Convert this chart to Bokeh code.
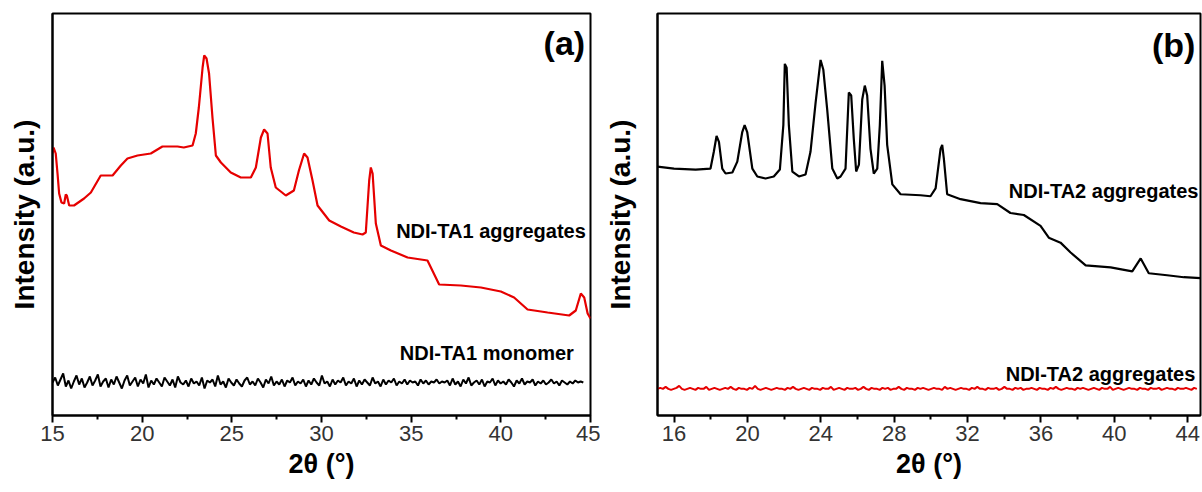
import numpy as np
from bokeh.plotting import figure
from bokeh.layouts import row
from bokeh.models import FixedTicker, Label
from bokeh.embed import file_html
from bokeh.resources import INLINE

# ---------------- Panel (a) data ----------------
ta1_agg_x = [15.0, 15.06, 15.18, 15.28, 15.37, 15.50, 15.65, 15.74, 15.80, 15.93,
             16.20, 16.76, 17.14, 17.69, 18.35, 18.81, 19.18, 19.74, 20.48, 21.13,
             21.97, 22.32, 22.81, 22.99, 23.16, 23.37, 23.46, 23.59, 23.73, 23.92,
             24.11, 24.39, 24.94, 25.50, 26.06, 26.34, 26.62, 26.80, 26.99, 27.17,
             27.45, 28.01, 28.46, 28.74, 29.03, 29.22, 29.50, 29.78, 30.43, 31.08,
             31.80, 32.29, 32.47, 32.66, 32.75, 32.85, 33.03, 33.31, 33.87, 34.80,
             35.91, 36.56, 37.77, 38.89, 40.00, 40.74, 41.49, 42.61, 43.81, 44.18,
             44.46, 44.65, 44.84, 45.0]
ta1_agg_y = [262, 268, 262, 242, 222, 213, 212, 221, 220, 210,
             210, 217, 223, 240, 240, 250, 257, 260, 262, 269,
             269, 268, 270, 282, 308, 348, 360, 357, 342, 298,
             260, 253, 243, 238, 238, 248, 278, 286, 282, 248,
             228, 220, 225, 245, 262, 258, 235, 210, 195, 189,
             183, 181, 183, 235, 248, 242, 192, 170, 165, 158,
             155, 131, 130, 128, 124, 118, 106, 103, 100, 105,
             122, 118, 102, 97]

ta1_mono_y = [33, 38, 30, 36, 42, 29, 35, 27, 34, 40, 31, 37, 28, 33, 39, 30, 35, 41, 29, 34,
              37, 28, 36, 31, 39, 33, 27, 35, 40, 30, 34, 38, 29, 36, 32, 41, 28, 35, 31, 37,
              33, 29, 38, 34, 30, 36, 28, 39, 33, 31, 35, 29, 37, 32, 34, 30, 38, 27, 35, 33,
              36, 29, 40, 31, 34, 28, 37, 33, 30, 36, 32, 29, 35, 38, 31, 34, 30, 37, 33, 28,
              36, 32, 39, 30, 34, 31, 36, 29, 35, 33, 38, 30, 34, 32, 36, 29, 35, 31, 37, 33,
              30, 40, 32, 34, 29, 36, 31, 35, 33, 38, 30, 34, 32, 37, 29, 35, 31, 36, 33, 30,
              38, 32, 34, 29, 36, 31, 35, 33, 37, 30, 34, 32, 36, 31, 35, 33, 34, 30, 36, 32,
              35, 31, 34, 33, 36, 32, 34, 33, 35, 30, 37, 31, 34, 29, 36, 32, 38, 30, 33, 35,
              31, 36, 29, 34, 33, 37, 30, 35, 32, 34, 31, 36, 33, 29, 35, 32, 37, 31, 34, 33,
              36, 30, 34, 32, 35, 31, 33, 36, 32, 34, 30, 35, 33, 31, 34, 32, 35, 33, 34, 33]
ta1_mono_start, ta1_mono_end = 15.0, 44.6

a_ticks = [15, 20, 25, 30, 35, 40, 45]
a_minor = [17.5, 22.5, 27.5, 32.5, 37.5, 42.5]

# ---------------- Panel (b) data ----------------
ta2_agg_x = [15.1, 16.0, 17.18, 17.99, 18.17, 18.32, 18.45, 18.63, 18.81, 19.18,
             19.45, 19.72, 19.85, 19.99, 20.27, 20.54, 20.99, 21.44, 21.77, 21.96,
             22.04, 22.14, 22.26, 22.45, 22.81, 23.17, 23.44, 23.72, 23.99, 24.14,
             24.35, 24.63, 24.90, 25.08, 25.35, 25.53, 25.66, 25.80, 25.93, 26.08,
             26.26, 26.40, 26.53, 26.71, 26.89, 27.08, 27.22, 27.35, 27.48, 27.62,
             27.90, 28.35, 29.44, 29.98, 30.26, 30.53, 30.62, 30.71, 30.89, 31.62,
             32.71, 33.62, 34.34, 35.07, 35.98, 36.43, 37.07, 37.62, 38.44, 39.80,
             40.98, 41.44, 41.88, 42.88, 43.79, 44.70]
ta2_agg_y = [252, 250, 249, 250, 267, 283, 277, 250, 245, 246,
             257, 287, 294, 287, 250, 242, 240, 242, 249, 294,
             356, 352, 294, 247, 242, 244, 267, 317, 360, 350,
             310, 250, 240, 242, 250, 327, 324, 280, 247, 254,
             320, 334, 324, 270, 245, 250, 294, 359, 334, 274,
             234, 224, 223, 222, 230, 270, 274, 260, 224, 219,
             215, 214, 205, 203, 192, 180, 175, 165, 152, 150,
             146, 159, 144, 142, 140, 139]

ta2_red_y = [27, 28, 27, 29, 27, 26, 27, 28, 30, 27, 26, 27, 28, 27, 26, 28, 27, 27, 29, 26,
             27, 28, 27, 26, 27, 28, 27, 29, 27, 26, 28, 27, 27, 26, 28, 27, 30, 27, 26, 27,
             28, 27, 26, 27, 28, 27, 27, 26, 28, 27, 29, 27, 26, 27, 28, 27, 26, 28, 27, 27,
             26, 28, 27, 27, 29, 26, 27, 28, 27, 26, 28, 27, 27, 28, 26, 27, 29, 27, 26, 28,
             27, 27, 26, 28, 27, 28, 26, 27, 27, 29, 27, 26, 28, 27, 27, 26, 28, 27, 28, 27,
             26, 27, 28, 27, 27, 26, 29, 27, 28, 27, 26, 27, 28, 27, 27, 26, 28, 27, 29, 27,
             27, 26, 28, 27, 27, 28, 26, 27, 29, 27, 27, 26, 28, 27, 28, 26, 27, 27, 28, 27,
             26, 28, 27, 27, 26, 28, 27, 29, 27, 26, 27, 28, 27, 27, 26, 28, 27, 28, 27, 26,
             27, 28, 27, 26, 28, 27, 27, 29, 26, 27, 28, 27, 26, 27, 28, 27, 27, 26, 28, 27,
             27, 26, 28, 27, 27, 28, 26, 27, 28, 27, 27, 26, 28, 27, 27, 28, 27, 26, 28, 27]
ta2_red_start, ta2_red_end = 15.1, 44.5

b_ticks = [16, 20, 24, 28, 32, 36, 40, 44]
b_minor = [18, 22, 26, 30, 34, 38, 42]

RED = "#e60000"
FONT = "Liberation Sans"


def style(p, ticks, minor, ylabel_standoff):
    p.grid.visible = False
    p.outline_line_color = "black"
    p.outline_line_width = 2
    p.background_fill_color = "white"
    p.border_fill_color = "white"
    xa = p.xaxis[0]
    xa.ticker = FixedTicker(ticks=ticks, minor_ticks=minor)
    xa.axis_line_width = 2
    xa.major_tick_line_width = 2
    xa.minor_tick_line_width = 2
    xa.major_tick_in = 0
    xa.major_tick_out = 7
    xa.minor_tick_in = 0
    xa.minor_tick_out = 4
    xa.major_label_text_font = FONT
    xa.major_label_text_font_size = "22px"
    xa.major_label_text_color = "#333333"
    xa.major_label_standoff = 3
    xa.axis_label = "2θ (°)"
    xa.axis_label_text_font = FONT
    xa.axis_label_text_font_size = "27px"
    xa.axis_label_text_font_style = "bold"
    xa.axis_label_text_color = "black"
    xa.axis_label_standoff = 5
    ya = p.yaxis[0]
    ya.ticker = FixedTicker(ticks=[])
    ya.major_tick_line_color = None
    ya.minor_tick_line_color = None
    ya.axis_line_width = 2
    ya.axis_label = "Intensity (a.u.)"
    ya.axis_label_text_font = FONT
    ya.axis_label_text_font_size = "28px"
    ya.axis_label_text_font_style = "bold"
    ya.axis_label_text_color = "black"
    ya.axis_label_standoff = ylabel_standoff


def add_text(p, x, y, text, size):
    p.add_layout(Label(x=x, y=y, text=text, text_font=FONT, text_font_size=size,
                       text_font_style="bold", text_align="right",
                       text_baseline="middle", text_color="black"))


# ---------------- Figure (a) ----------------
pa = figure(width=600, height=492, x_range=(15, 45), y_range=(0, 402),
            output_backend="svg", toolbar_location=None,
            min_border_left=52, min_border_right=10, min_border_top=13,
            min_border_bottom=77)
style(pa, a_ticks, a_minor, 13)
mono_x = np.linspace(ta1_mono_start, ta1_mono_end, len(ta1_mono_y))
pa.line(mono_x, ta1_mono_y, line_color="black", line_width=2)
pa.line(ta1_agg_x, ta1_agg_y, line_color=RED, line_width=2.2)
add_text(pa, 44.7, 373, "(a)", "34px")
add_text(pa, 44.74, 185, "NDI-TA1 aggregates", "20px")
add_text(pa, 44.07, 63, "NDI-TA1 monomer", "20px")

# ---------------- Figure (b) ----------------
pb = figure(width=602, height=492, x_range=(15.1, 44.7), y_range=(0, 407),
            output_backend="svg", toolbar_location=None,
            min_border_left=57, min_border_right=2, min_border_top=10,
            min_border_bottom=75)
style(pb, b_ticks, b_minor, 22)
red_x = np.linspace(ta2_red_start, ta2_red_end, len(ta2_red_y))
pb.line(red_x, ta2_red_y, line_color=RED, line_width=2)
pb.line(ta2_agg_x, ta2_agg_y, line_color="black", line_width=2.2)
add_text(pb, 44.42, 375, "(b)", "34px")
add_text(pb, 44.59, 227, "NDI-TA2 aggregates", "20px")
add_text(pb, 44.42, 42, "NDI-TA2 aggregates", "20px")

layout = row(pa, pb)
open("out.html", "w").write(file_html(layout, INLINE))
